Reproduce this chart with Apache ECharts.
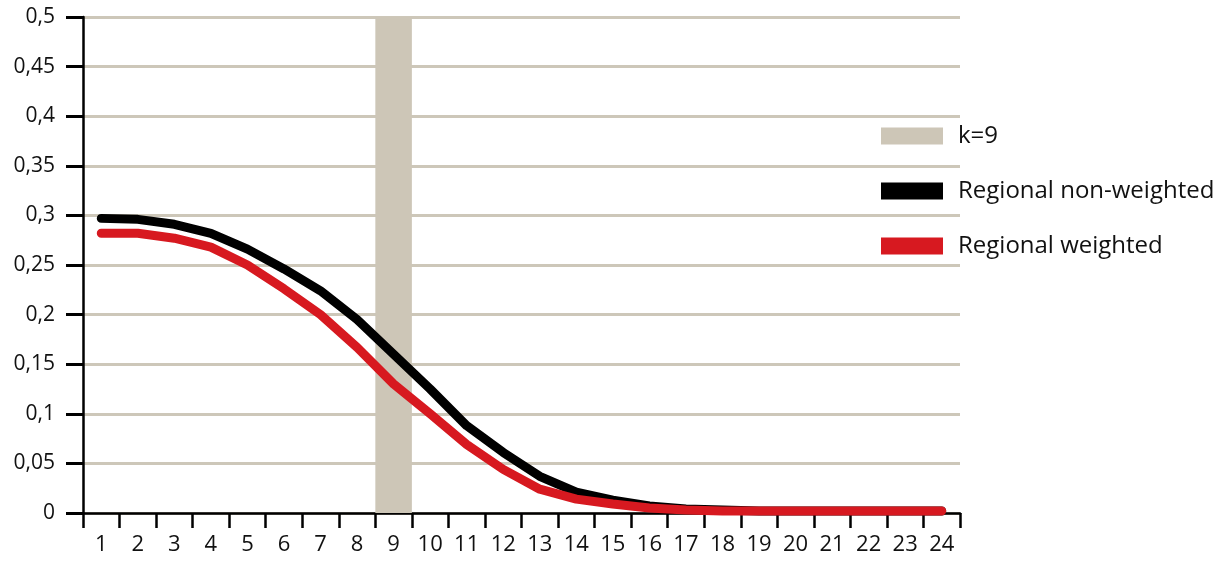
<!DOCTYPE html>
<html><head><meta charset="utf-8">
<script src="https://cdn.jsdelivr.net/npm/echarts@6/dist/echarts.min.js"></script>
<style>html,body{margin:0;padding:0;background:#fff}#c{width:1226px;height:561px}</style>
</head><body><div id="c"></div>
<script>
const categories = ['1','2','3','4','5','6','7','8','9','10','11','12','13','14','15','16','17','18','19','20','21','22','23','24'];
const nonWeighted = [0.297,0.296,0.291,0.282,0.266,0.246,0.224,0.195,0.160,0.125,0.088,0.061,0.037,0.021,0.013,0.007,0.004,0.003,0.002,0.002,0.002,0.002,0.002,0.002];
const weighted = [0.282,0.282,0.277,0.268,0.250,0.226,0.200,0.167,0.130,0.100,0.069,0.044,0.024,0.014,0.009,0.005,0.003,0.002,0.002,0.002,0.002,0.002,0.002,0.002];
const kBand = [null,null,null,null,null,null,null,null,0.5,null,null,null,null,null,null,null,null,null,null,null,null,null,null,null];
const FONT = '"Open Sans", "DejaVu Sans", sans-serif';
const chart = echarts.init(document.getElementById('c'), null, {renderer:'canvas'});
chart.setOption({
  animation:false,
  grid:{left:83,right:266,top:17,bottom:48},
  legend:{
    orient:'vertical', left:876, top:119, icon:'rect', itemWidth:62, itemHeight:17, itemGap:31,
    textStyle:{fontFamily:FONT, fontSize:24, lineHeight:24, color:'#111', padding:[0,0,0,10]},
    data:['k=9','Regional non-weighted','Regional weighted']
  },
  xAxis:{
    type:'category', data:categories, boundaryGap:true,
    axisLine:{show:true,lineStyle:{color:'#000',width:2.5}},
    axisTick:{show:true,inside:false,alignWithLabel:false,interval:0,length:15,lineStyle:{color:'#000',width:2.5}},
    axisLabel:{fontFamily:FONT,fontSize:22,color:'#111',margin:21,interval:0},
    splitLine:{show:false}
  },
  yAxis:{
    type:'value', min:0, max:0.5, interval:0.05,
    axisLine:{show:true,lineStyle:{color:'#000',width:2.5}},
    axisTick:{show:true,inside:false,length:17,lineStyle:{color:'#000',width:3}},
    axisLabel:{fontFamily:FONT,fontSize:21,color:'#111',margin:28,
      formatter:v=>String(+v.toFixed(2)).replace('.',',')},
    splitLine:{lineStyle:{color:'#cdc7b9',width:3}}
  },
  series:[
    {name:'k=9',type:'bar',data:kBand,barWidth:'100%',itemStyle:{color:'#cdc6b7'},z:1},
    {name:'Regional non-weighted',type:'line',data:nonWeighted,showSymbol:false,symbol:'none',
     itemStyle:{color:'#000'},lineStyle:{color:'#000',width:9,cap:'round',join:'round'},z:3},
    {name:'Regional weighted',type:'line',data:weighted,showSymbol:false,symbol:'none',
     itemStyle:{color:'#d71920'},lineStyle:{color:'#d71920',width:9,cap:'round',join:'round'},z:4}
  ]
});
</script></body></html>
